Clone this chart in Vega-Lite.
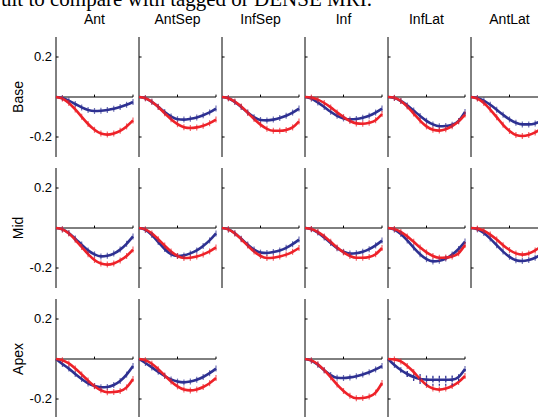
{
"$schema": "https://vega.github.io/schema/vega-lite/v6.json",
"padding": {"left": 1, "top": -11, "right": 0, "bottom": 0},
"background": "white",
"bounds": "flush",
"title": {"text": "ult to compare with tagged or DENSE MRI.", "font": "Liberation Serif", "fontSize": 21, "fontWeight": "normal", "anchor": "start", "frame": "bounds", "baseline": "alphabetic", "offset": -14, "dx": -11, "color": "black"},
"datasets": {
"pts": [
{"r":"Base","c":"Ant","s":"b","x":0,"y":0},{"r":"Base","c":"Ant","s":"b","x":1,"y":-0.005},{"r":"Base","c":"Ant","s":"b","x":2,"y":-0.018},{"r":"Base","c":"Ant","s":"b","x":3,"y":-0.035},{"r":"Base","c":"Ant","s":"b","x":4,"y":-0.052},{"r":"Base","c":"Ant","s":"b","x":5,"y":-0.065},{"r":"Base","c":"Ant","s":"b","x":6,"y":-0.07},{"r":"Base","c":"Ant","s":"b","x":7,"y":-0.069},{"r":"Base","c":"Ant","s":"b","x":8,"y":-0.065},{"r":"Base","c":"Ant","s":"b","x":9,"y":-0.059},{"r":"Base","c":"Ant","s":"b","x":10,"y":-0.05},{"r":"Base","c":"Ant","s":"b","x":11,"y":-0.039},{"r":"Base","c":"Ant","s":"b","x":12,"y":-0.025},
{"r":"Base","c":"Ant","s":"r","x":0,"y":0},{"r":"Base","c":"Ant","s":"r","x":1,"y":-0.008},{"r":"Base","c":"Ant","s":"r","x":2,"y":-0.03},{"r":"Base","c":"Ant","s":"r","x":3,"y":-0.062},{"r":"Base","c":"Ant","s":"r","x":4,"y":-0.099},{"r":"Base","c":"Ant","s":"r","x":5,"y":-0.135},{"r":"Base","c":"Ant","s":"r","x":6,"y":-0.164},{"r":"Base","c":"Ant","s":"r","x":7,"y":-0.183},{"r":"Base","c":"Ant","s":"r","x":8,"y":-0.188},{"r":"Base","c":"Ant","s":"r","x":9,"y":-0.182},{"r":"Base","c":"Ant","s":"r","x":10,"y":-0.169},{"r":"Base","c":"Ant","s":"r","x":11,"y":-0.147},{"r":"Base","c":"Ant","s":"r","x":12,"y":-0.117},
{"r":"Base","c":"AntSep","s":"b","x":0,"y":0},{"r":"Base","c":"AntSep","s":"b","x":1,"y":-0.006},{"r":"Base","c":"AntSep","s":"b","x":2,"y":-0.024},{"r":"Base","c":"AntSep","s":"b","x":3,"y":-0.049},{"r":"Base","c":"AntSep","s":"b","x":4,"y":-0.075},{"r":"Base","c":"AntSep","s":"b","x":5,"y":-0.097},{"r":"Base","c":"AntSep","s":"b","x":6,"y":-0.111},{"r":"Base","c":"AntSep","s":"b","x":7,"y":-0.113},{"r":"Base","c":"AntSep","s":"b","x":8,"y":-0.109},{"r":"Base","c":"AntSep","s":"b","x":9,"y":-0.102},{"r":"Base","c":"AntSep","s":"b","x":10,"y":-0.091},{"r":"Base","c":"AntSep","s":"b","x":11,"y":-0.077},{"r":"Base","c":"AntSep","s":"b","x":12,"y":-0.058},
{"r":"Base","c":"AntSep","s":"r","x":0,"y":0},{"r":"Base","c":"AntSep","s":"r","x":1,"y":-0.006},{"r":"Base","c":"AntSep","s":"r","x":2,"y":-0.024},{"r":"Base","c":"AntSep","s":"r","x":3,"y":-0.05},{"r":"Base","c":"AntSep","s":"r","x":4,"y":-0.081},{"r":"Base","c":"AntSep","s":"r","x":5,"y":-0.111},{"r":"Base","c":"AntSep","s":"r","x":6,"y":-0.136},{"r":"Base","c":"AntSep","s":"r","x":7,"y":-0.151},{"r":"Base","c":"AntSep","s":"r","x":8,"y":-0.155},{"r":"Base","c":"AntSep","s":"r","x":9,"y":-0.152},{"r":"Base","c":"AntSep","s":"r","x":10,"y":-0.144},{"r":"Base","c":"AntSep","s":"r","x":11,"y":-0.131},{"r":"Base","c":"AntSep","s":"r","x":12,"y":-0.113},
{"r":"Base","c":"InfSep","s":"b","x":0,"y":0},{"r":"Base","c":"InfSep","s":"b","x":1,"y":-0.006},{"r":"Base","c":"InfSep","s":"b","x":2,"y":-0.025},{"r":"Base","c":"InfSep","s":"b","x":3,"y":-0.05},{"r":"Base","c":"InfSep","s":"b","x":4,"y":-0.078},{"r":"Base","c":"InfSep","s":"b","x":5,"y":-0.101},{"r":"Base","c":"InfSep","s":"b","x":6,"y":-0.115},{"r":"Base","c":"InfSep","s":"b","x":7,"y":-0.117},{"r":"Base","c":"InfSep","s":"b","x":8,"y":-0.113},{"r":"Base","c":"InfSep","s":"b","x":9,"y":-0.105},{"r":"Base","c":"InfSep","s":"b","x":10,"y":-0.094},{"r":"Base","c":"InfSep","s":"b","x":11,"y":-0.078},{"r":"Base","c":"InfSep","s":"b","x":12,"y":-0.058},
{"r":"Base","c":"InfSep","s":"r","x":0,"y":0},{"r":"Base","c":"InfSep","s":"r","x":1,"y":-0.006},{"r":"Base","c":"InfSep","s":"r","x":2,"y":-0.023},{"r":"Base","c":"InfSep","s":"r","x":3,"y":-0.048},{"r":"Base","c":"InfSep","s":"r","x":4,"y":-0.079},{"r":"Base","c":"InfSep","s":"r","x":5,"y":-0.11},{"r":"Base","c":"InfSep","s":"r","x":6,"y":-0.138},{"r":"Base","c":"InfSep","s":"r","x":7,"y":-0.159},{"r":"Base","c":"InfSep","s":"r","x":8,"y":-0.169},{"r":"Base","c":"InfSep","s":"r","x":9,"y":-0.169},{"r":"Base","c":"InfSep","s":"r","x":10,"y":-0.165},{"r":"Base","c":"InfSep","s":"r","x":11,"y":-0.152},{"r":"Base","c":"InfSep","s":"r","x":12,"y":-0.122},
{"r":"Base","c":"Inf","s":"b","x":0,"y":0},{"r":"Base","c":"Inf","s":"b","x":1,"y":-0.008},{"r":"Base","c":"Inf","s":"b","x":2,"y":-0.027},{"r":"Base","c":"Inf","s":"b","x":3,"y":-0.05},{"r":"Base","c":"Inf","s":"b","x":4,"y":-0.074},{"r":"Base","c":"Inf","s":"b","x":5,"y":-0.094},{"r":"Base","c":"Inf","s":"b","x":6,"y":-0.107},{"r":"Base","c":"Inf","s":"b","x":7,"y":-0.112},{"r":"Base","c":"Inf","s":"b","x":8,"y":-0.11},{"r":"Base","c":"Inf","s":"b","x":9,"y":-0.104},{"r":"Base","c":"Inf","s":"b","x":10,"y":-0.094},{"r":"Base","c":"Inf","s":"b","x":11,"y":-0.078},{"r":"Base","c":"Inf","s":"b","x":12,"y":-0.058},
{"r":"Base","c":"Inf","s":"r","x":0,"y":0},{"r":"Base","c":"Inf","s":"r","x":1,"y":-0.003},{"r":"Base","c":"Inf","s":"r","x":2,"y":-0.013},{"r":"Base","c":"Inf","s":"r","x":3,"y":-0.03},{"r":"Base","c":"Inf","s":"r","x":4,"y":-0.052},{"r":"Base","c":"Inf","s":"r","x":5,"y":-0.077},{"r":"Base","c":"Inf","s":"r","x":6,"y":-0.1},{"r":"Base","c":"Inf","s":"r","x":7,"y":-0.12},{"r":"Base","c":"Inf","s":"r","x":8,"y":-0.132},{"r":"Base","c":"Inf","s":"r","x":9,"y":-0.134},{"r":"Base","c":"Inf","s":"r","x":10,"y":-0.129},{"r":"Base","c":"Inf","s":"r","x":11,"y":-0.116},{"r":"Base","c":"Inf","s":"r","x":12,"y":-0.085},
{"r":"Base","c":"InfLat","s":"b","x":0,"y":0},{"r":"Base","c":"InfLat","s":"b","x":1,"y":-0.005},{"r":"Base","c":"InfLat","s":"b","x":2,"y":-0.02},{"r":"Base","c":"InfLat","s":"b","x":3,"y":-0.042},{"r":"Base","c":"InfLat","s":"b","x":4,"y":-0.068},{"r":"Base","c":"InfLat","s":"b","x":5,"y":-0.095},{"r":"Base","c":"InfLat","s":"b","x":6,"y":-0.119},{"r":"Base","c":"InfLat","s":"b","x":7,"y":-0.137},{"r":"Base","c":"InfLat","s":"b","x":8,"y":-0.146},{"r":"Base","c":"InfLat","s":"b","x":9,"y":-0.145},{"r":"Base","c":"InfLat","s":"b","x":10,"y":-0.139},{"r":"Base","c":"InfLat","s":"b","x":11,"y":-0.12},{"r":"Base","c":"InfLat","s":"b","x":12,"y":-0.075},
{"r":"Base","c":"InfLat","s":"r","x":0,"y":0},{"r":"Base","c":"InfLat","s":"r","x":1,"y":-0.004},{"r":"Base","c":"InfLat","s":"r","x":2,"y":-0.02},{"r":"Base","c":"InfLat","s":"r","x":3,"y":-0.048},{"r":"Base","c":"InfLat","s":"r","x":4,"y":-0.083},{"r":"Base","c":"InfLat","s":"r","x":5,"y":-0.118},{"r":"Base","c":"InfLat","s":"r","x":6,"y":-0.147},{"r":"Base","c":"InfLat","s":"r","x":7,"y":-0.164},{"r":"Base","c":"InfLat","s":"r","x":8,"y":-0.168},{"r":"Base","c":"InfLat","s":"r","x":9,"y":-0.161},{"r":"Base","c":"InfLat","s":"r","x":10,"y":-0.146},{"r":"Base","c":"InfLat","s":"r","x":11,"y":-0.122},{"r":"Base","c":"InfLat","s":"r","x":12,"y":-0.088},
{"r":"Base","c":"AntLat","s":"b","x":0,"y":0},{"r":"Base","c":"AntLat","s":"b","x":1,"y":-0.005},{"r":"Base","c":"AntLat","s":"b","x":2,"y":-0.018},{"r":"Base","c":"AntLat","s":"b","x":3,"y":-0.039},{"r":"Base","c":"AntLat","s":"b","x":4,"y":-0.064},{"r":"Base","c":"AntLat","s":"b","x":5,"y":-0.089},{"r":"Base","c":"AntLat","s":"b","x":6,"y":-0.112},{"r":"Base","c":"AntLat","s":"b","x":7,"y":-0.129},{"r":"Base","c":"AntLat","s":"b","x":8,"y":-0.137},{"r":"Base","c":"AntLat","s":"b","x":9,"y":-0.137},{"r":"Base","c":"AntLat","s":"b","x":10,"y":-0.132},{"r":"Base","c":"AntLat","s":"b","x":11,"y":-0.118},{"r":"Base","c":"AntLat","s":"b","x":12,"y":-0.085},
{"r":"Base","c":"AntLat","s":"r","x":0,"y":0},{"r":"Base","c":"AntLat","s":"r","x":1,"y":-0.008},{"r":"Base","c":"AntLat","s":"r","x":2,"y":-0.03},{"r":"Base","c":"AntLat","s":"r","x":3,"y":-0.063},{"r":"Base","c":"AntLat","s":"r","x":4,"y":-0.101},{"r":"Base","c":"AntLat","s":"r","x":5,"y":-0.139},{"r":"Base","c":"AntLat","s":"r","x":6,"y":-0.17},{"r":"Base","c":"AntLat","s":"r","x":7,"y":-0.19},{"r":"Base","c":"AntLat","s":"r","x":8,"y":-0.195},{"r":"Base","c":"AntLat","s":"r","x":9,"y":-0.19},{"r":"Base","c":"AntLat","s":"r","x":10,"y":-0.177},{"r":"Base","c":"AntLat","s":"r","x":11,"y":-0.157},{"r":"Base","c":"AntLat","s":"r","x":12,"y":-0.13},
{"r":"Mid","c":"Ant","s":"b","x":0,"y":0},{"r":"Mid","c":"Ant","s":"b","x":1,"y":-0.007},{"r":"Mid","c":"Ant","s":"b","x":2,"y":-0.025},{"r":"Mid","c":"Ant","s":"b","x":3,"y":-0.053},{"r":"Mid","c":"Ant","s":"b","x":4,"y":-0.083},{"r":"Mid","c":"Ant","s":"b","x":5,"y":-0.112},{"r":"Mid","c":"Ant","s":"b","x":6,"y":-0.132},{"r":"Mid","c":"Ant","s":"b","x":7,"y":-0.142},{"r":"Mid","c":"Ant","s":"b","x":8,"y":-0.139},{"r":"Mid","c":"Ant","s":"b","x":9,"y":-0.128},{"r":"Mid","c":"Ant","s":"b","x":10,"y":-0.108},{"r":"Mid","c":"Ant","s":"b","x":11,"y":-0.079},{"r":"Mid","c":"Ant","s":"b","x":12,"y":-0.042},
{"r":"Mid","c":"Ant","s":"r","x":0,"y":0},{"r":"Mid","c":"Ant","s":"r","x":1,"y":-0.007},{"r":"Mid","c":"Ant","s":"r","x":2,"y":-0.028},{"r":"Mid","c":"Ant","s":"r","x":3,"y":-0.059},{"r":"Mid","c":"Ant","s":"r","x":4,"y":-0.095},{"r":"Mid","c":"Ant","s":"r","x":5,"y":-0.131},{"r":"Mid","c":"Ant","s":"r","x":6,"y":-0.16},{"r":"Mid","c":"Ant","s":"r","x":7,"y":-0.178},{"r":"Mid","c":"Ant","s":"r","x":8,"y":-0.183},{"r":"Mid","c":"Ant","s":"r","x":9,"y":-0.177},{"r":"Mid","c":"Ant","s":"r","x":10,"y":-0.162},{"r":"Mid","c":"Ant","s":"r","x":11,"y":-0.14},{"r":"Mid","c":"Ant","s":"r","x":12,"y":-0.108},
{"r":"Mid","c":"AntSep","s":"b","x":0,"y":0},{"r":"Mid","c":"AntSep","s":"b","x":1,"y":-0.009},{"r":"Mid","c":"AntSep","s":"b","x":2,"y":-0.035},{"r":"Mid","c":"AntSep","s":"b","x":3,"y":-0.07},{"r":"Mid","c":"AntSep","s":"b","x":4,"y":-0.105},{"r":"Mid","c":"AntSep","s":"b","x":5,"y":-0.131},{"r":"Mid","c":"AntSep","s":"b","x":6,"y":-0.14},{"r":"Mid","c":"AntSep","s":"b","x":7,"y":-0.137},{"r":"Mid","c":"AntSep","s":"b","x":8,"y":-0.127},{"r":"Mid","c":"AntSep","s":"b","x":9,"y":-0.112},{"r":"Mid","c":"AntSep","s":"b","x":10,"y":-0.09},{"r":"Mid","c":"AntSep","s":"b","x":11,"y":-0.062},{"r":"Mid","c":"AntSep","s":"b","x":12,"y":-0.027},
{"r":"Mid","c":"AntSep","s":"r","x":0,"y":0},{"r":"Mid","c":"AntSep","s":"r","x":1,"y":-0.007},{"r":"Mid","c":"AntSep","s":"r","x":2,"y":-0.027},{"r":"Mid","c":"AntSep","s":"r","x":3,"y":-0.056},{"r":"Mid","c":"AntSep","s":"r","x":4,"y":-0.088},{"r":"Mid","c":"AntSep","s":"r","x":5,"y":-0.118},{"r":"Mid","c":"AntSep","s":"r","x":6,"y":-0.14},{"r":"Mid","c":"AntSep","s":"r","x":7,"y":-0.15},{"r":"Mid","c":"AntSep","s":"r","x":8,"y":-0.149},{"r":"Mid","c":"AntSep","s":"r","x":9,"y":-0.143},{"r":"Mid","c":"AntSep","s":"r","x":10,"y":-0.132},{"r":"Mid","c":"AntSep","s":"r","x":11,"y":-0.117},{"r":"Mid","c":"AntSep","s":"r","x":12,"y":-0.097},
{"r":"Mid","c":"InfSep","s":"b","x":0,"y":0},{"r":"Mid","c":"InfSep","s":"b","x":1,"y":-0.007},{"r":"Mid","c":"InfSep","s":"b","x":2,"y":-0.026},{"r":"Mid","c":"InfSep","s":"b","x":3,"y":-0.054},{"r":"Mid","c":"InfSep","s":"b","x":4,"y":-0.083},{"r":"Mid","c":"InfSep","s":"b","x":5,"y":-0.108},{"r":"Mid","c":"InfSep","s":"b","x":6,"y":-0.123},{"r":"Mid","c":"InfSep","s":"b","x":7,"y":-0.125},{"r":"Mid","c":"InfSep","s":"b","x":8,"y":-0.12},{"r":"Mid","c":"InfSep","s":"b","x":9,"y":-0.112},{"r":"Mid","c":"InfSep","s":"b","x":10,"y":-0.099},{"r":"Mid","c":"InfSep","s":"b","x":11,"y":-0.081},{"r":"Mid","c":"InfSep","s":"b","x":12,"y":-0.058},
{"r":"Mid","c":"InfSep","s":"r","x":0,"y":0},{"r":"Mid","c":"InfSep","s":"r","x":1,"y":-0.007},{"r":"Mid","c":"InfSep","s":"r","x":2,"y":-0.027},{"r":"Mid","c":"InfSep","s":"r","x":3,"y":-0.056},{"r":"Mid","c":"InfSep","s":"r","x":4,"y":-0.088},{"r":"Mid","c":"InfSep","s":"r","x":5,"y":-0.118},{"r":"Mid","c":"InfSep","s":"r","x":6,"y":-0.14},{"r":"Mid","c":"InfSep","s":"r","x":7,"y":-0.15},{"r":"Mid","c":"InfSep","s":"r","x":8,"y":-0.149},{"r":"Mid","c":"InfSep","s":"r","x":9,"y":-0.143},{"r":"Mid","c":"InfSep","s":"r","x":10,"y":-0.133},{"r":"Mid","c":"InfSep","s":"r","x":11,"y":-0.119},{"r":"Mid","c":"InfSep","s":"r","x":12,"y":-0.1},
{"r":"Mid","c":"Inf","s":"b","x":0,"y":0},{"r":"Mid","c":"Inf","s":"b","x":1,"y":-0.006},{"r":"Mid","c":"Inf","s":"b","x":2,"y":-0.023},{"r":"Mid","c":"Inf","s":"b","x":3,"y":-0.048},{"r":"Mid","c":"Inf","s":"b","x":4,"y":-0.075},{"r":"Mid","c":"Inf","s":"b","x":5,"y":-0.101},{"r":"Mid","c":"Inf","s":"b","x":6,"y":-0.119},{"r":"Mid","c":"Inf","s":"b","x":7,"y":-0.128},{"r":"Mid","c":"Inf","s":"b","x":8,"y":-0.126},{"r":"Mid","c":"Inf","s":"b","x":9,"y":-0.119},{"r":"Mid","c":"Inf","s":"b","x":10,"y":-0.106},{"r":"Mid","c":"Inf","s":"b","x":11,"y":-0.087},{"r":"Mid","c":"Inf","s":"b","x":12,"y":-0.063},
{"r":"Mid","c":"Inf","s":"r","x":0,"y":0},{"r":"Mid","c":"Inf","s":"r","x":1,"y":-0.005},{"r":"Mid","c":"Inf","s":"r","x":2,"y":-0.02},{"r":"Mid","c":"Inf","s":"r","x":3,"y":-0.042},{"r":"Mid","c":"Inf","s":"r","x":4,"y":-0.069},{"r":"Mid","c":"Inf","s":"r","x":5,"y":-0.097},{"r":"Mid","c":"Inf","s":"r","x":6,"y":-0.122},{"r":"Mid","c":"Inf","s":"r","x":7,"y":-0.14},{"r":"Mid","c":"Inf","s":"r","x":8,"y":-0.149},{"r":"Mid","c":"Inf","s":"r","x":9,"y":-0.149},{"r":"Mid","c":"Inf","s":"r","x":10,"y":-0.145},{"r":"Mid","c":"Inf","s":"r","x":11,"y":-0.131},{"r":"Mid","c":"Inf","s":"r","x":12,"y":-0.1},
{"r":"Mid","c":"InfLat","s":"b","x":0,"y":0},{"r":"Mid","c":"InfLat","s":"b","x":1,"y":-0.008},{"r":"Mid","c":"InfLat","s":"b","x":2,"y":-0.03},{"r":"Mid","c":"InfLat","s":"b","x":3,"y":-0.062},{"r":"Mid","c":"InfLat","s":"b","x":4,"y":-0.098},{"r":"Mid","c":"InfLat","s":"b","x":5,"y":-0.131},{"r":"Mid","c":"InfLat","s":"b","x":6,"y":-0.156},{"r":"Mid","c":"InfLat","s":"b","x":7,"y":-0.167},{"r":"Mid","c":"InfLat","s":"b","x":8,"y":-0.164},{"r":"Mid","c":"InfLat","s":"b","x":9,"y":-0.153},{"r":"Mid","c":"InfLat","s":"b","x":10,"y":-0.133},{"r":"Mid","c":"InfLat","s":"b","x":11,"y":-0.105},{"r":"Mid","c":"InfLat","s":"b","x":12,"y":-0.068},
{"r":"Mid","c":"InfLat","s":"r","x":0,"y":0},{"r":"Mid","c":"InfLat","s":"r","x":1,"y":-0.005},{"r":"Mid","c":"InfLat","s":"r","x":2,"y":-0.02},{"r":"Mid","c":"InfLat","s":"r","x":3,"y":-0.042},{"r":"Mid","c":"InfLat","s":"r","x":4,"y":-0.069},{"r":"Mid","c":"InfLat","s":"r","x":5,"y":-0.097},{"r":"Mid","c":"InfLat","s":"r","x":6,"y":-0.122},{"r":"Mid","c":"InfLat","s":"r","x":7,"y":-0.14},{"r":"Mid","c":"InfLat","s":"r","x":8,"y":-0.149},{"r":"Mid","c":"InfLat","s":"r","x":9,"y":-0.148},{"r":"Mid","c":"InfLat","s":"r","x":10,"y":-0.143},{"r":"Mid","c":"InfLat","s":"r","x":11,"y":-0.126},{"r":"Mid","c":"InfLat","s":"r","x":12,"y":-0.085},
{"r":"Mid","c":"AntLat","s":"b","x":0,"y":0},{"r":"Mid","c":"AntLat","s":"b","x":1,"y":-0.007},{"r":"Mid","c":"AntLat","s":"b","x":2,"y":-0.025},{"r":"Mid","c":"AntLat","s":"b","x":3,"y":-0.053},{"r":"Mid","c":"AntLat","s":"b","x":4,"y":-0.086},{"r":"Mid","c":"AntLat","s":"b","x":5,"y":-0.118},{"r":"Mid","c":"AntLat","s":"b","x":6,"y":-0.144},{"r":"Mid","c":"AntLat","s":"b","x":7,"y":-0.161},{"r":"Mid","c":"AntLat","s":"b","x":8,"y":-0.165},{"r":"Mid","c":"AntLat","s":"b","x":9,"y":-0.16},{"r":"Mid","c":"AntLat","s":"b","x":10,"y":-0.149},{"r":"Mid","c":"AntLat","s":"b","x":11,"y":-0.13},{"r":"Mid","c":"AntLat","s":"b","x":12,"y":-0.105},
{"r":"Mid","c":"AntLat","s":"r","x":0,"y":0},{"r":"Mid","c":"AntLat","s":"r","x":1,"y":-0.003},{"r":"Mid","c":"AntLat","s":"r","x":2,"y":-0.014},{"r":"Mid","c":"AntLat","s":"r","x":3,"y":-0.033},{"r":"Mid","c":"AntLat","s":"r","x":4,"y":-0.058},{"r":"Mid","c":"AntLat","s":"r","x":5,"y":-0.086},{"r":"Mid","c":"AntLat","s":"r","x":6,"y":-0.11},{"r":"Mid","c":"AntLat","s":"r","x":7,"y":-0.127},{"r":"Mid","c":"AntLat","s":"r","x":8,"y":-0.133},{"r":"Mid","c":"AntLat","s":"r","x":9,"y":-0.127},{"r":"Mid","c":"AntLat","s":"r","x":10,"y":-0.112},{"r":"Mid","c":"AntLat","s":"r","x":11,"y":-0.088},{"r":"Mid","c":"AntLat","s":"r","x":12,"y":-0.055},
{"r":"Apex","c":"Ant","s":"b","x":0,"y":0},{"r":"Apex","c":"Ant","s":"b","x":1,"y":-0.025},{"r":"Apex","c":"Ant","s":"b","x":2,"y":-0.048},{"r":"Apex","c":"Ant","s":"b","x":3,"y":-0.075},{"r":"Apex","c":"Ant","s":"b","x":4,"y":-0.1},{"r":"Apex","c":"Ant","s":"b","x":5,"y":-0.122},{"r":"Apex","c":"Ant","s":"b","x":6,"y":-0.135},{"r":"Apex","c":"Ant","s":"b","x":7,"y":-0.141},{"r":"Apex","c":"Ant","s":"b","x":8,"y":-0.14},{"r":"Apex","c":"Ant","s":"b","x":9,"y":-0.13},{"r":"Apex","c":"Ant","s":"b","x":10,"y":-0.11},{"r":"Apex","c":"Ant","s":"b","x":11,"y":-0.078},{"r":"Apex","c":"Ant","s":"b","x":12,"y":-0.035},
{"r":"Apex","c":"Ant","s":"r","x":0,"y":0},{"r":"Apex","c":"Ant","s":"r","x":1,"y":-0.006},{"r":"Apex","c":"Ant","s":"r","x":2,"y":-0.022},{"r":"Apex","c":"Ant","s":"r","x":3,"y":-0.047},{"r":"Apex","c":"Ant","s":"r","x":4,"y":-0.077},{"r":"Apex","c":"Ant","s":"r","x":5,"y":-0.108},{"r":"Apex","c":"Ant","s":"r","x":6,"y":-0.136},{"r":"Apex","c":"Ant","s":"r","x":7,"y":-0.156},{"r":"Apex","c":"Ant","s":"r","x":8,"y":-0.166},{"r":"Apex","c":"Ant","s":"r","x":9,"y":-0.165},{"r":"Apex","c":"Ant","s":"r","x":10,"y":-0.16},{"r":"Apex","c":"Ant","s":"r","x":11,"y":-0.142},{"r":"Apex","c":"Ant","s":"r","x":12,"y":-0.1},
{"r":"Apex","c":"AntSep","s":"b","x":0,"y":0},{"r":"Apex","c":"AntSep","s":"b","x":1,"y":-0.02},{"r":"Apex","c":"AntSep","s":"b","x":2,"y":-0.042},{"r":"Apex","c":"AntSep","s":"b","x":3,"y":-0.064},{"r":"Apex","c":"AntSep","s":"b","x":4,"y":-0.085},{"r":"Apex","c":"AntSep","s":"b","x":5,"y":-0.102},{"r":"Apex","c":"AntSep","s":"b","x":6,"y":-0.113},{"r":"Apex","c":"AntSep","s":"b","x":7,"y":-0.117},{"r":"Apex","c":"AntSep","s":"b","x":8,"y":-0.113},{"r":"Apex","c":"AntSep","s":"b","x":9,"y":-0.104},{"r":"Apex","c":"AntSep","s":"b","x":10,"y":-0.09},{"r":"Apex","c":"AntSep","s":"b","x":11,"y":-0.071},{"r":"Apex","c":"AntSep","s":"b","x":12,"y":-0.048},
{"r":"Apex","c":"AntSep","s":"r","x":0,"y":0},{"r":"Apex","c":"AntSep","s":"r","x":1,"y":-0.006},{"r":"Apex","c":"AntSep","s":"r","x":2,"y":-0.024},{"r":"Apex","c":"AntSep","s":"r","x":3,"y":-0.051},{"r":"Apex","c":"AntSep","s":"r","x":4,"y":-0.082},{"r":"Apex","c":"AntSep","s":"r","x":5,"y":-0.112},{"r":"Apex","c":"AntSep","s":"r","x":6,"y":-0.137},{"r":"Apex","c":"AntSep","s":"r","x":7,"y":-0.153},{"r":"Apex","c":"AntSep","s":"r","x":8,"y":-0.157},{"r":"Apex","c":"AntSep","s":"r","x":9,"y":-0.152},{"r":"Apex","c":"AntSep","s":"r","x":10,"y":-0.14},{"r":"Apex","c":"AntSep","s":"r","x":11,"y":-0.121},{"r":"Apex","c":"AntSep","s":"r","x":12,"y":-0.095},
{"r":"Apex","c":"InfSep"},
{"r":"Apex","c":"Inf","s":"b","x":0,"y":0},{"r":"Apex","c":"Inf","s":"b","x":1,"y":-0.008},{"r":"Apex","c":"Inf","s":"b","x":2,"y":-0.029},{"r":"Apex","c":"Inf","s":"b","x":3,"y":-0.056},{"r":"Apex","c":"Inf","s":"b","x":4,"y":-0.08},{"r":"Apex","c":"Inf","s":"b","x":5,"y":-0.094},{"r":"Apex","c":"Inf","s":"b","x":6,"y":-0.095},{"r":"Apex","c":"Inf","s":"b","x":7,"y":-0.092},{"r":"Apex","c":"Inf","s":"b","x":8,"y":-0.086},{"r":"Apex","c":"Inf","s":"b","x":9,"y":-0.077},{"r":"Apex","c":"Inf","s":"b","x":10,"y":-0.066},{"r":"Apex","c":"Inf","s":"b","x":11,"y":-0.052},{"r":"Apex","c":"Inf","s":"b","x":12,"y":-0.035},
{"r":"Apex","c":"Inf","s":"r","x":0,"y":0},{"r":"Apex","c":"Inf","s":"r","x":1,"y":-0.007},{"r":"Apex","c":"Inf","s":"r","x":2,"y":-0.026},{"r":"Apex","c":"Inf","s":"r","x":3,"y":-0.056},{"r":"Apex","c":"Inf","s":"r","x":4,"y":-0.091},{"r":"Apex","c":"Inf","s":"r","x":5,"y":-0.128},{"r":"Apex","c":"Inf","s":"r","x":6,"y":-0.16},{"r":"Apex","c":"Inf","s":"r","x":7,"y":-0.184},{"r":"Apex","c":"Inf","s":"r","x":8,"y":-0.196},{"r":"Apex","c":"Inf","s":"r","x":9,"y":-0.195},{"r":"Apex","c":"Inf","s":"r","x":10,"y":-0.188},{"r":"Apex","c":"Inf","s":"r","x":11,"y":-0.168},{"r":"Apex","c":"Inf","s":"r","x":12,"y":-0.12},
{"r":"Apex","c":"InfLat","s":"b","x":0,"y":0},{"r":"Apex","c":"InfLat","s":"b","x":1,"y":-0.03,"lo":-0.035,"hi":-0.025},{"r":"Apex","c":"InfLat","s":"b","x":2,"y":-0.055,"lo":-0.065,"hi":-0.045},{"r":"Apex","c":"InfLat","s":"b","x":3,"y":-0.075,"lo":-0.09,"hi":-0.06},{"r":"Apex","c":"InfLat","s":"b","x":4,"y":-0.09,"lo":-0.11,"hi":-0.07},{"r":"Apex","c":"InfLat","s":"b","x":5,"y":-0.1,"lo":-0.125,"hi":-0.075},{"r":"Apex","c":"InfLat","s":"b","x":6,"y":-0.103,"lo":-0.133,"hi":-0.073},{"r":"Apex","c":"InfLat","s":"b","x":7,"y":-0.104,"lo":-0.134,"hi":-0.074},{"r":"Apex","c":"InfLat","s":"b","x":8,"y":-0.104,"lo":-0.134,"hi":-0.074},{"r":"Apex","c":"InfLat","s":"b","x":9,"y":-0.104,"lo":-0.134,"hi":-0.074},{"r":"Apex","c":"InfLat","s":"b","x":10,"y":-0.103,"lo":-0.133,"hi":-0.073},{"r":"Apex","c":"InfLat","s":"b","x":11,"y":-0.09,"lo":-0.11,"hi":-0.07},{"r":"Apex","c":"InfLat","s":"b","x":12,"y":-0.05,"lo":-0.06,"hi":-0.04},
{"r":"Apex","c":"InfLat","s":"r","x":0,"y":0},{"r":"Apex","c":"InfLat","s":"r","x":1,"y":-0.002},{"r":"Apex","c":"InfLat","s":"r","x":2,"y":-0.012},{"r":"Apex","c":"InfLat","s":"r","x":3,"y":-0.035},{"r":"Apex","c":"InfLat","s":"r","x":4,"y":-0.065},{"r":"Apex","c":"InfLat","s":"r","x":5,"y":-0.1},{"r":"Apex","c":"InfLat","s":"r","x":6,"y":-0.13},{"r":"Apex","c":"InfLat","s":"r","x":7,"y":-0.148},{"r":"Apex","c":"InfLat","s":"r","x":8,"y":-0.153},{"r":"Apex","c":"InfLat","s":"r","x":9,"y":-0.148},{"r":"Apex","c":"InfLat","s":"r","x":10,"y":-0.135},{"r":"Apex","c":"InfLat","s":"r","x":11,"y":-0.115},{"r":"Apex","c":"InfLat","s":"r","x":12,"y":-0.085},
{"r":"Apex","c":"AntLat"}
]},
"data": {"name": "pts"},
"facet": {
  "row": {"field": "r", "type": "nominal", "sort": ["Base", "Mid", "Apex"], "title": null,
    "header": {"labelAngle": -90, "labelOrient": "left", "labelFont": "Liberation Sans", "labelFontSize": 14, "labelColor": "black", "labelPadding": 23}},
  "column": {"field": "c", "type": "nominal", "sort": ["Ant", "AntSep", "InfSep", "Inf", "InfLat", "AntLat"], "title": null,
    "header": {"labelOrient": "top", "labelFont": "Liberation Sans", "labelFontSize": 14, "labelColor": "black", "labelPadding": 10}}
},
"spacing": {"row": 11, "column": 6},
"spec": {
  "width": 77,
  "height": 120,
  "layer": [
    {"transform": [{"filter": "datum.x == 0 && datum.s == 'b'"}],
     "mark": {"type": "rule", "color": "black", "strokeWidth": 1},
     "encoding": {"x": {"datum": 0, "type": "quantitative", "scale": {"domain": [0, 12]}, "axis": null}, "y": {"datum": -0.3, "type": "quantitative", "scale": {"domain": [-0.3, 0.3]}, "axis": null}, "y2": {"datum": 0.3}}},
    {"transform": [{"filter": "datum.x == 0 && datum.s == 'b'"}],
     "mark": {"type": "rule", "color": "black", "strokeWidth": 1},
     "encoding": {"x": {"datum": 0, "type": "quantitative", "axis": null}, "x2": {"datum": 12}, "y": {"datum": 0, "type": "quantitative", "axis": null}}},
    {"transform": [{"filter": "datum.x == 0 && datum.s == 'b'"}],
     "mark": {"type": "rule", "color": "black", "strokeWidth": 1},
     "encoding": {"x": {"datum": 0, "type": "quantitative", "axis": null}, "x2": {"datum": 0.4}, "y": {"datum": 0.2, "type": "quantitative", "axis": null}}},
    {"transform": [{"filter": "datum.x == 0 && datum.s == 'b'"}],
     "mark": {"type": "rule", "color": "black", "strokeWidth": 1},
     "encoding": {"x": {"datum": 0, "type": "quantitative", "axis": null}, "x2": {"datum": 0.4}, "y": {"datum": -0.2, "type": "quantitative", "axis": null}}},
    {"transform": [{"filter": "datum.x == 0 && datum.s == 'b'"}],
     "mark": {"type": "rule", "color": "black", "strokeWidth": 1},
     "encoding": {"x": {"datum": 6, "type": "quantitative", "axis": null}, "y": {"datum": 0, "type": "quantitative", "axis": null}, "y2": {"datum": 0.012}}},
    {"transform": [{"filter": "datum.x == 0 && datum.s == 'b'"}],
     "mark": {"type": "rule", "color": "black", "strokeWidth": 1},
     "encoding": {"x": {"datum": 12, "type": "quantitative", "axis": null}, "y": {"datum": 0, "type": "quantitative", "axis": null}, "y2": {"datum": 0.012}}},
    {"transform": [{"filter": "datum.c == 'Ant' && datum.x == 0 && datum.s == 'b'"}],
     "mark": {"type": "text", "text": "0.2", "align": "right", "baseline": "middle", "dx": -4, "font": "Liberation Sans", "fontSize": 13, "color": "black"},
     "encoding": {"x": {"datum": 0, "type": "quantitative", "axis": null}, "y": {"datum": 0.2, "type": "quantitative", "axis": null}}},
    {"transform": [{"filter": "datum.c == 'Ant' && datum.x == 0 && datum.s == 'b'"}],
     "mark": {"type": "text", "text": "-0.2", "align": "right", "baseline": "middle", "dx": -4, "font": "Liberation Sans", "fontSize": 13, "color": "black"},
     "encoding": {"x": {"datum": 0, "type": "quantitative", "axis": null}, "y": {"datum": -0.2, "type": "quantitative", "axis": null}}},
    {"transform": [{"filter": "isValid(datum.y)"}],
     "mark": {"type": "line", "interpolate": "monotone", "strokeWidth": 2.6},
     "encoding": {
       "x": {"field": "x", "type": "quantitative", "axis": null},
       "y": {"field": "y", "type": "quantitative", "axis": null},
       "color": {"field": "s", "type": "nominal", "scale": {"domain": ["b", "r"], "range": ["#2e3192", "#ee2229"]}, "legend": null}}},
    {"transform": [{"filter": "datum.x > 0"}],
     "mark": {"type": "tick", "orient": "vertical", "size": 6, "thickness": 1.2},
     "encoding": {
       "x": {"field": "x", "type": "quantitative", "axis": null},
       "y": {"field": "y", "type": "quantitative", "axis": null},
       "color": {"field": "s", "type": "nominal", "legend": null}}},
    {"transform": [{"filter": "isValid(datum.lo)"}],
     "mark": {"type": "rule", "strokeDash": [2, 2], "strokeWidth": 1.2, "color": "#2e3192"},
     "encoding": {
       "x": {"field": "x", "type": "quantitative", "axis": null},
       "y": {"field": "lo", "type": "quantitative", "axis": null},
       "y2": {"field": "hi"}}}
  ]
},
"config": {"view": {"stroke": null}, "font": "Liberation Sans"}
}
